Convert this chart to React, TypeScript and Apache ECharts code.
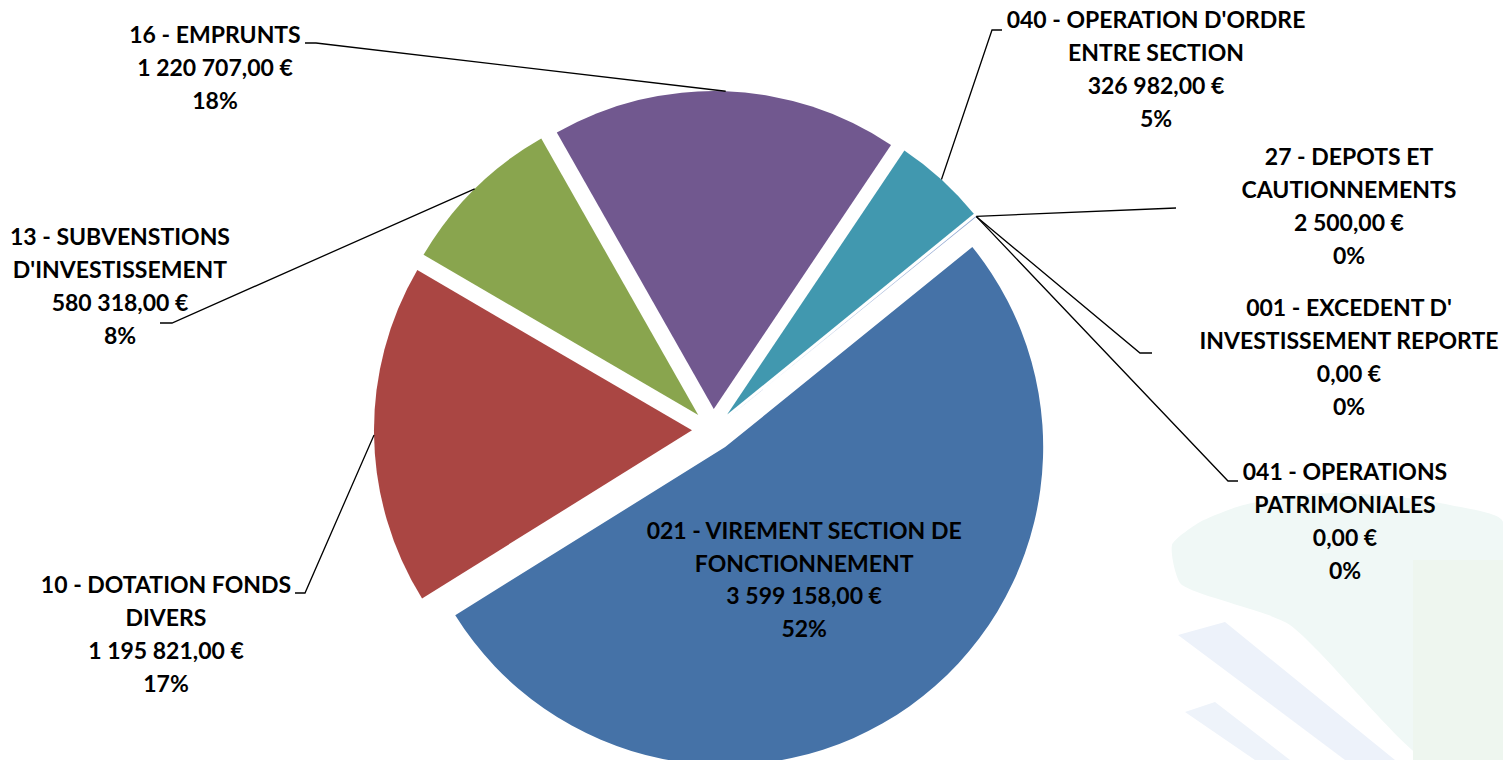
import React, { useEffect, useRef } from "react";
import * as echarts from "echarts";

// ---- data ----
const categories = [
  "021 - VIREMENT SECTION DE FONCTIONNEMENT",
  "10 - DOTATION FONDS DIVERS",
  "13 - SUBVENSTIONS D'INVESTISSEMENT",
  "16 - EMPRUNTS",
  "040 - OPERATION D'ORDRE ENTRE SECTION",
  "27 - DEPOTS ET CAUTIONNEMENTS",
  "001 - EXCEDENT D' INVESTISSEMENT REPORTE",
  "041 - OPERATIONS PATRIMONIALES",
];
const labelTitles = [
  "021 - VIREMENT SECTION DE\nFONCTIONNEMENT",
  "10 - DOTATION FONDS\nDIVERS",
  "13 - SUBVENSTIONS\nD'INVESTISSEMENT",
  "16 - EMPRUNTS",
  "040 - OPERATION D'ORDRE\nENTRE SECTION",
  "27 - DEPOTS ET\nCAUTIONNEMENTS",
  "001 - EXCEDENT D'\nINVESTISSEMENT REPORTE",
  "041 - OPERATIONS\nPATRIMONIALES",
];
const amounts = [3599158, 1195821, 580318, 1220707, 326982, 2500, 0, 0];
const colors = ["#4572A7", "#AA4643", "#89A54E", "#71588F", "#4198AF", "#8EA5D0", "#9DB3D8", "#9DB3D8"];

// ---- layout ----
const CX = 713;
const CY = 430;
const RADIUS = 318;
const EXPLODE = 21;
const FIRST_ANGLE = 51; // degrees clockwise from 12 o'clock
const FONT_FAMILY = "Lato";
const FONT_SIZE = 23;
const LINE_H = 32.8;

const outerLabels: any[] = [
  null,
  { x: 166, y: 568, line: [[295, 593], [305, 593]] },
  { x: 120, y: 220, line: [[160, 323], [172, 323]] },
  { x: 215, y: 18, line: [[305, 43], [316, 43]] },
  { x: 1156, y: 3, line: [[1002, 30], [992, 30]] },
  { x: 1349, y: 140, line: [[1176, 208]] },
  { x: 1349, y: 291, line: [[1152, 353], [1140, 353]] },
  { x: 1345, y: 455, line: [[1238, 481], [1228, 481]] },
];

function fmtEuro(v: number): string {
  const [i, d] = v.toFixed(2).split(".");
  return i.replace(/\B(?=(\d{3})+(?!\d))/g, " ") + "," + d + " €";
}

export default function App() {
  const ref = useRef<HTMLDivElement>(null);
  useEffect(() => {
    if (!ref.current) return;
    const chart = echarts.init(ref.current, null, { renderer: "svg" });
    const total = amounts.reduce((a, b) => a + b, 0);
    const pct = (v: number) => Math.round((v / total) * 100) + "%";
    const labelText = (i: number) => `${labelTitles[i]}\n${fmtEuro(amounts[i])}\n${pct(amounts[i])}`;

    let cum = 0;
    const anchors = amounts.map((v) => {
      const mid = FIRST_ANGLE + ((cum + v / 2) / total) * 360;
      cum += v;
      const rad = (mid * Math.PI) / 180;
      const r = RADIUS + EXPLODE;
      return [CX + r * Math.sin(rad), CY - r * Math.cos(rad)];
    });

    const watermark: any[] = [
      {
        type: "polygon",
        z: 0,
        shape: {
          points: [
            [1172, 545], [1200, 522], [1240, 506], [1290, 496], [1340, 493], [1400, 497],
            [1450, 505], [1503, 522], [1503, 760], [1425, 760], [1290, 625], [1182, 585],
          ],
          smooth: 0.2,
        },
        style: { fill: "#F0F8F6" },
      },
      {
        type: "rect",
        z: 0,
        shape: { x: 1413, y: 560, width: 90, height: 200 },
        style: { fill: "#EEF6EF" },
      },
      {
        type: "polygon",
        z: 0,
        shape: { points: [[1178, 635], [1225, 622], [1395, 760], [1345, 760]] },
        style: { fill: "#EDF2FA" },
      },
      {
        type: "polygon",
        z: 0,
        shape: { points: [[1185, 712], [1215, 702], [1290, 760], [1255, 760]] },
        style: { fill: "#EEF3FA" },
      },
    ];

    const labelEls: any[] = [];
    outerLabels.forEach((lab, i) => {
      if (!lab) return;
      labelEls.push({
        type: "polyline",
        z: 5,
        shape: { points: [...lab.line, anchors[i]] },
        style: { stroke: "#000", lineWidth: 1.3, fill: null },
      });
      labelEls.push({
        type: "text",
        z: 10,
        style: {
          text: labelText(i),
          x: lab.x,
          y: lab.y,
          align: "center",
          verticalAlign: "top",
          fill: "#000",
          font: `bold ${FONT_SIZE}px ${FONT_FAMILY}`,
          lineHeight: LINE_H,
        },
      });
    });

    chart.setOption({
      animation: false,
      backgroundColor: "#ffffff",
      graphic: [...watermark, ...labelEls],
      series: [
        {
          type: "pie",
          center: [CX, CY],
          radius: RADIUS,
          startAngle: 90 - FIRST_ANGLE,
          clockwise: true,
          selectedMode: "multiple",
          selectedOffset: EXPLODE,
          avoidLabelOverlap: false,
          emphasis: { disabled: true },
          select: { itemStyle: { borderWidth: 0 } },
          itemStyle: { borderWidth: 0 },
          label: {
            show: true,
            position: "inside",
            formatter: (p: any) => labelText(p.dataIndex),
            fontFamily: FONT_FAMILY,
            fontWeight: "bold",
            fontSize: FONT_SIZE,
            lineHeight: LINE_H,
            color: "#000",
            padding: [0, 30, 0, 0],
          },
          labelLine: { show: false },
          data: amounts.map((v, i) => ({
            value: v,
            name: categories[i],
            selected: true,
            itemStyle: { color: colors[i] },
            label: { show: i === 0 },
          })),
        },
      ],
    });
    return () => chart.dispose();
  }, []);
  return (
    <div
      ref={ref}
      style={{ position: "fixed", left: 0, top: 0, width: 1503, height: 760, background: "#fff" }}
    />
  );
}
